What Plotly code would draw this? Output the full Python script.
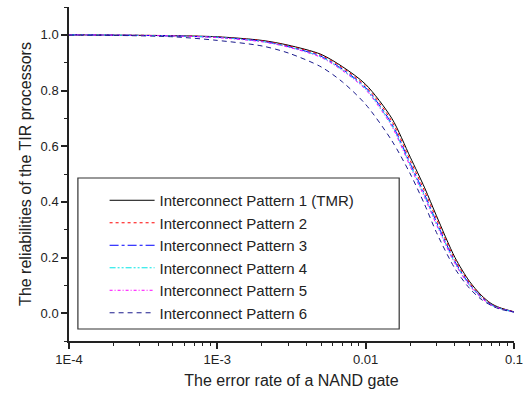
import plotly.graph_objects as go

error_rate = [1e-4, 2e-4, 5e-4, 1e-3, 2e-3, 3e-3, 5e-3, 7e-3, 0.01, 0.015, 0.02,
              0.025, 0.03, 0.04, 0.05, 0.06, 0.07, 0.08, 0.1]

pattern1 = [1.000, 0.999, 0.997, 0.993, 0.980, 0.963, 0.930, 0.885, 0.822, 0.700, 0.560,
            0.450, 0.350, 0.200, 0.115, 0.065, 0.035, 0.020, 0.005]
pattern2 = [1.000, 0.999, 0.997, 0.992, 0.979, 0.961, 0.927, 0.881, 0.816, 0.690, 0.548,
            0.438, 0.339, 0.192, 0.110, 0.062, 0.033, 0.019, 0.005]
pattern3 = [1.000, 0.999, 0.996, 0.991, 0.977, 0.958, 0.923, 0.876, 0.810, 0.680, 0.537,
            0.426, 0.328, 0.185, 0.105, 0.059, 0.031, 0.018, 0.004]
pattern4 = [1.000, 0.999, 0.996, 0.991, 0.976, 0.957, 0.921, 0.873, 0.806, 0.675, 0.531,
            0.420, 0.322, 0.181, 0.102, 0.057, 0.030, 0.017, 0.004]
pattern5 = [1.000, 0.999, 0.996, 0.990, 0.975, 0.956, 0.919, 0.871, 0.803, 0.671, 0.526,
            0.415, 0.318, 0.178, 0.100, 0.056, 0.029, 0.017, 0.004]
pattern6 = [0.999, 0.998, 0.993, 0.980, 0.960, 0.935, 0.885, 0.830, 0.750, 0.620, 0.500,
            0.390, 0.290, 0.160, 0.090, 0.050, 0.028, 0.015, 0.004]

names = ["Interconnect Pattern 1 (TMR)", "Interconnect Pattern 2", "Interconnect Pattern 3",
         "Interconnect Pattern 4", "Interconnect Pattern 5", "Interconnect Pattern 6"]
series = [pattern1, pattern2, pattern3, pattern4, pattern5, pattern6]
colors = ["#000000", "#ff0000", "#0000ff", "#00e5e5", "#ff00ff", "#1a1a8c"]
dashes = ["solid", "dot", "dashdot", "6px,2px,2px,2px,2px,2px", "3px,2px,1px,2px", "5px,4px"]

x_tickvals = [1e-4, 1e-3, 0.01, 0.1]
x_ticktext = ["1E-4", "1E-3", "0.01", "0.1"]
x_minor = [m * 10 ** e for e in (-4, -3, -2) for m in range(2, 10)]
y_tickvals = [0.0, 0.2, 0.4, 0.6, 0.8, 1.0]

fig = go.Figure()
for name, ys, c, d in zip(names, series, colors, dashes):
    fig.add_trace(go.Scatter(x=error_rate, y=ys, mode="lines", name=name,
                             line=dict(color=c, dash=d, width=1, shape="spline", smoothing=0.8)))

font_family = "Liberation Sans, Arial, sans-serif"
fig.update_layout(
    width=530, height=395,
    margin=dict(l=69, r=11, t=7, b=54),
    paper_bgcolor="white", plot_bgcolor="white",
    font=dict(family=font_family, color="#222222", size=13),
    showlegend=True,
    legend=dict(x=0.08, y=0.47, xanchor="left", yanchor="top",
                borderwidth=0, bgcolor="rgba(0,0,0,0)",
                font=dict(size=15, family=font_family, color="#222222"),
                itemwidth=45, tracegroupgap=0),
    shapes=[dict(type="rect", xref="paper", yref="paper", x0=0.02, x1=0.742,
                 y0=0.036, y1=0.488, line=dict(color="#333333", width=1.2))],
    xaxis=dict(type="log", range=[-4, -1], tickvals=x_tickvals, ticktext=x_ticktext,
               showline=True, linecolor="#222222", linewidth=1.5, mirror=False,
               ticks="outside", ticklen=6, tickwidth=1.5, tickcolor="#222222",
               showgrid=False, zeroline=False,
               minor=dict(tickvals=x_minor, ticks="outside", ticklen=3, tickwidth=1,
                          tickcolor="#222222", showgrid=False),
               title=dict(text="The error rate of a NAND gate", font=dict(size=16), standoff=8)),
    yaxis=dict(range=[-0.1, 1.1], tickvals=y_tickvals, tickformat=".1f",
               showline=True, linecolor="#222222", linewidth=1.5, mirror=False,
               ticks="outside", ticklen=6, tickwidth=1.5, tickcolor="#222222",
               showgrid=False, zeroline=False,
               minor=dict(dtick=0.1, tick0=0, ticks="outside", ticklen=3, tickwidth=1,
                          tickcolor="#222222", showgrid=False),
               title=dict(text="The reliabilities of the TIR processors", font=dict(size=16), standoff=5)),
)

fig.write_html("out.html", config={"displayModeBar": False},
               post_script="document.body.style.margin='0';")
